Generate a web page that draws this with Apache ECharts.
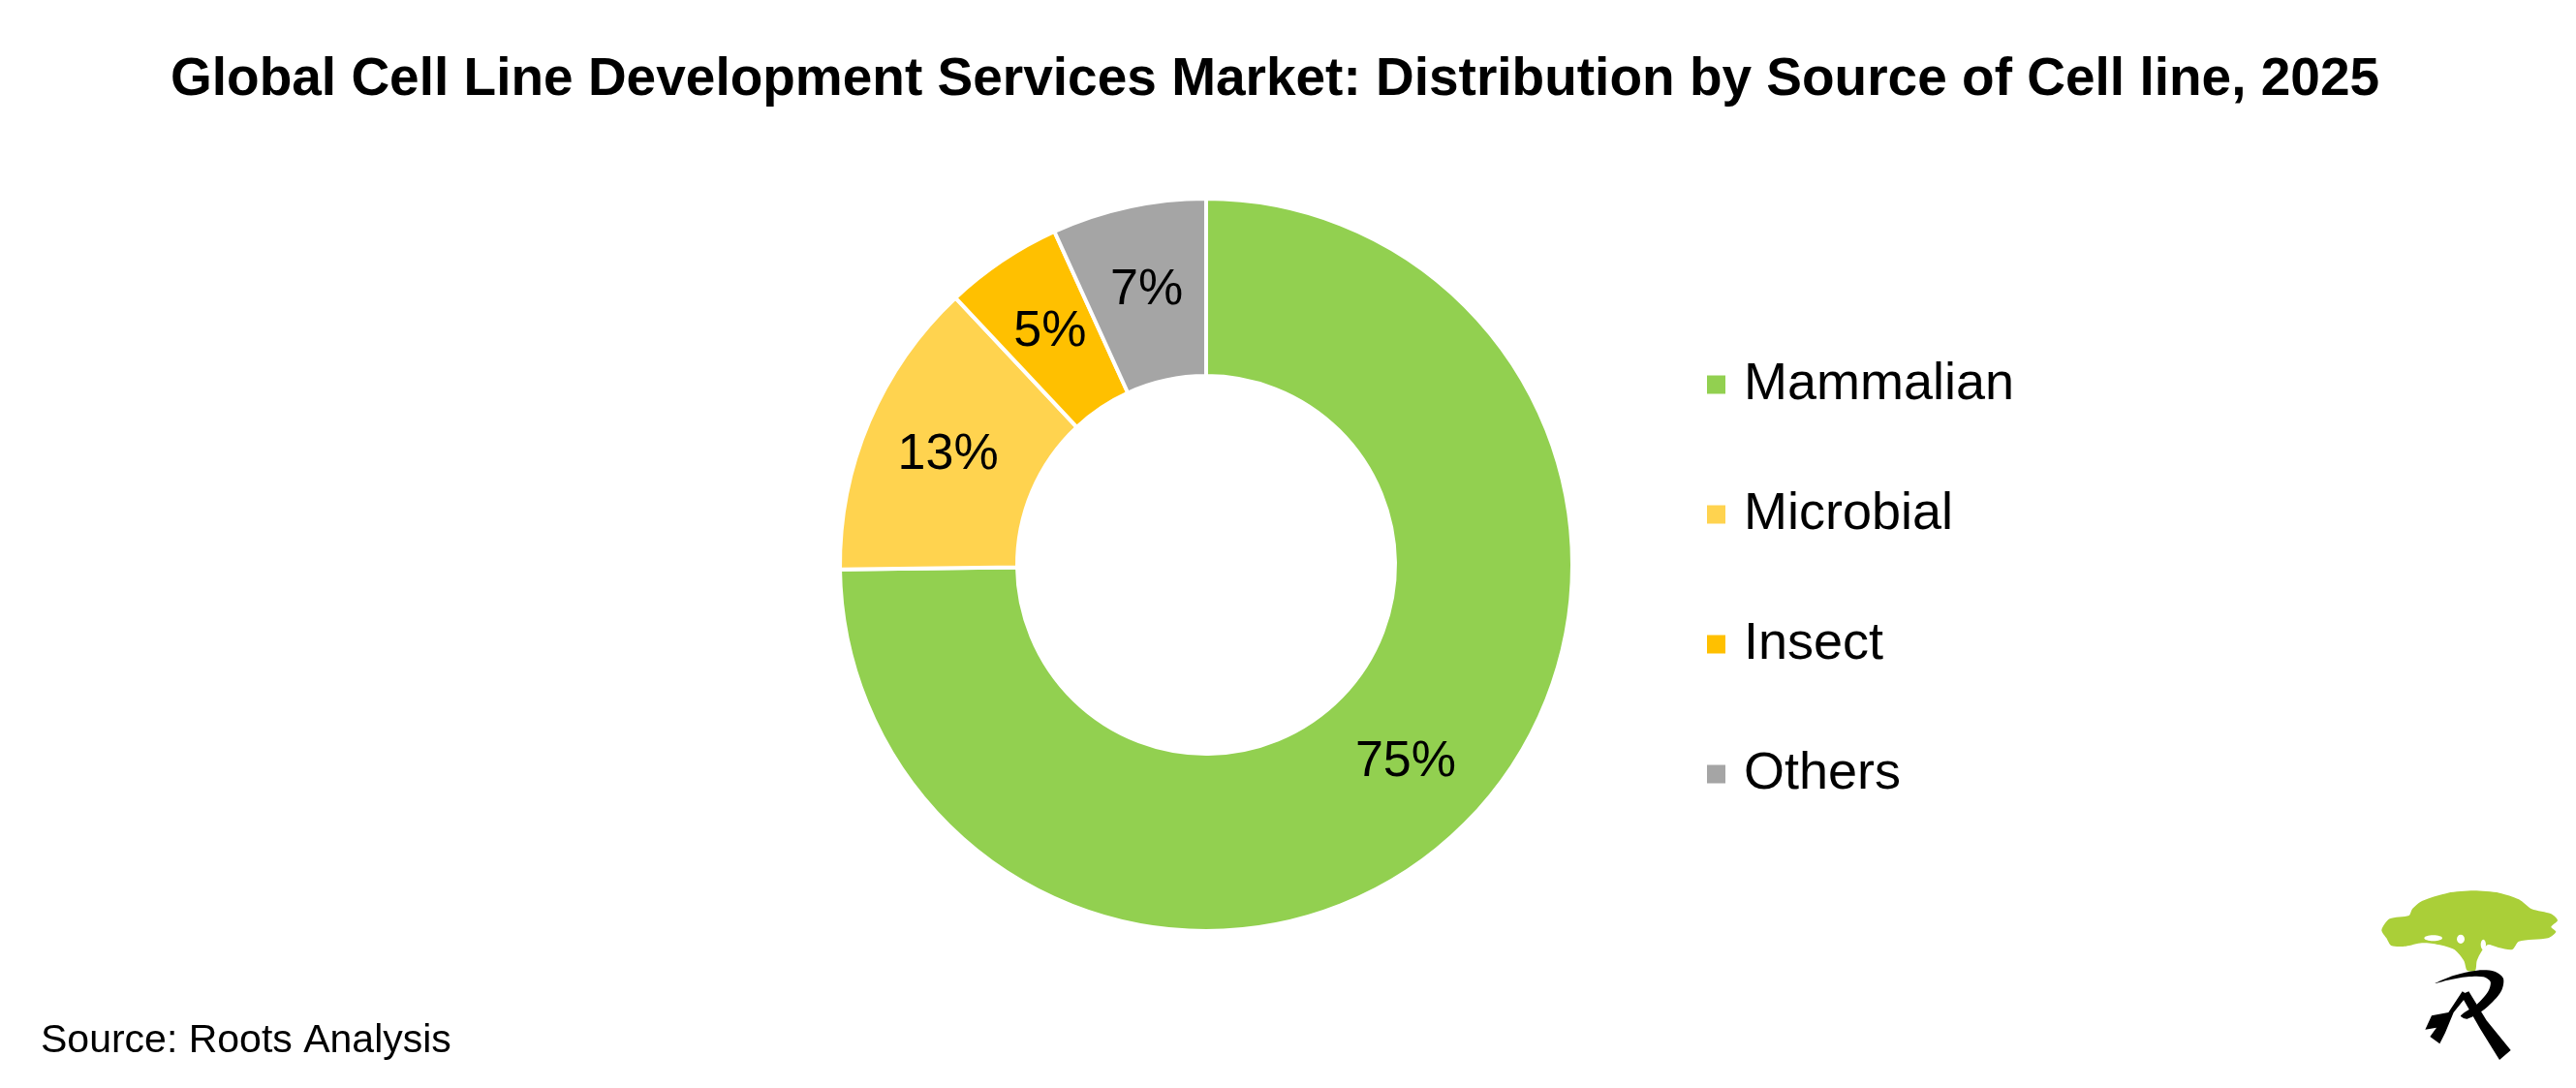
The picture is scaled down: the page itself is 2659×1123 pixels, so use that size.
<!DOCTYPE html>
<html>
<head>
<meta charset="utf-8">
<script src="https://cdn.jsdelivr.net/npm/echarts@6/dist/echarts.min.js"></script>
<style>
html,body{margin:0;padding:0;background:#fff;}
#chart{width:2659px;height:1123px;}
</style>
</head>
<body>
<div id="chart"></div>
<script>
const titleText = 'Global Cell Line Development Services Market: Distribution by Source of Cell line, 2025';
const categories = ['Mammalian', 'Microbial', 'Insect', 'Others'];
const shares = [74.8, 13.2, 5.2, 6.8];
const sliceColors = ['#92D050', '#FFD34F', '#FFC000', '#A5A5A5'];
const sourceText = 'Source: Roots Analysis';

const FONT = 'Liberation Sans, Arial, Helvetica, sans-serif';
const chart = echarts.init(document.getElementById('chart'), null, {renderer: 'canvas'});

const pieData = categories.map((c, i) => ({name: c, value: shares[i], itemStyle: {color: sliceColors[i]}}));

const option = {
  backgroundColor: '#ffffff',
  animation: false,
  title: {
    text: titleText,
    left: 176,
    top: 55,
    padding: 0,
    textStyle: {fontFamily: FONT, fontWeight: 'bold', fontSize: 55, color: '#000'}
  },
  legend: {
    orient: 'vertical',
    left: 1760,
    top: 367,
    padding: 0,
    itemWidth: 21,
    itemHeight: 21,
    itemGap: 74,
    icon: 'rect',
    selectedMode: false,
    data: categories,
    textStyle: {fontFamily: FONT, fontSize: 54, color: '#000', lineHeight: 60, padding: [0, 0, 0, 13]}
  },
  series: [{
    type: 'pie',
    center: [1245, 583],
    radius: [195, 378],
    startAngle: 90,
    clockwise: true,
    avoidLabelOverlap: false,
    silent: true,
    itemStyle: {borderColor: '#ffffff', borderWidth: 4},
    label: {
      show: true,
      position: 'inside',
      formatter: p => Math.round(p.value) + '%',
      fontFamily: FONT,
      fontSize: 52,
      color: '#000'
    },
    labelLine: {show: false},
    emphasis: {disabled: true},
    data: pieData
  }],
  graphic: [
    {
      type: 'text',
      left: 42,
      top: 1054,
      style: {text: sourceText, fontFamily: FONT, fontSize: 41, fill: '#000'}
    },
    {
      type: 'group',
      x: 2400,
      y: 880,
      scaleX: 1/3,
      scaleY: 1/3,
      children: [
        {type: 'polygon', shape: {smooth: 0.25, points: [
          [175,240],[200,205],[260,195],[270,175],[300,150],[380,125],[460,118],[540,125],[600,145],
          [640,175],[700,190],[720,210],[700,230],[715,245],[690,265],[600,275],[580,300],[540,295],
          [505,285],[485,305],[470,335],[465,365],[440,365],[430,335],[400,300],[350,285],[300,280],
          [250,290],[205,288],[190,265]
        ]}, style: {fill: '#AACF38'}},
        {type: 'ellipse', shape: {cx: 335, cy: 265, rx: 28, ry: 9}, style: {fill: '#fff'}},
        {type: 'ellipse', shape: {cx: 420, cy: 268, rx: 12, ry: 14}, style: {fill: '#fff'}},
        {type: 'ellipse', shape: {cx: 490, cy: 285, rx: 8, ry: 16}, style: {fill: '#fff'}},
        {type: 'polygon', shape: {smooth: 0.3, points: [
          [340,405],[400,380],[470,365],[525,368],[552,390],[545,430],[500,480],[440,515],[420,505],
          [470,470],[505,430],[512,400],[490,385],[440,385],[380,395]
        ]}, style: {fill: '#000'}},
        {type: 'polygon', shape: {points: [
          [420,440],[445,430],[500,520],[575,612],[540,642],[480,545]
        ]}, style: {fill: '#000'}},
        {type: 'polygon', shape: {points: [
          [425,430],[442,440],[398,495],[372,558],[355,592],[325,570],[345,542],[310,548],[330,505],[382,495]
        ]}, style: {fill: '#000'}}
      ]
    }
  ]
};
chart.setOption(option);
</script>
</body>
</html>
